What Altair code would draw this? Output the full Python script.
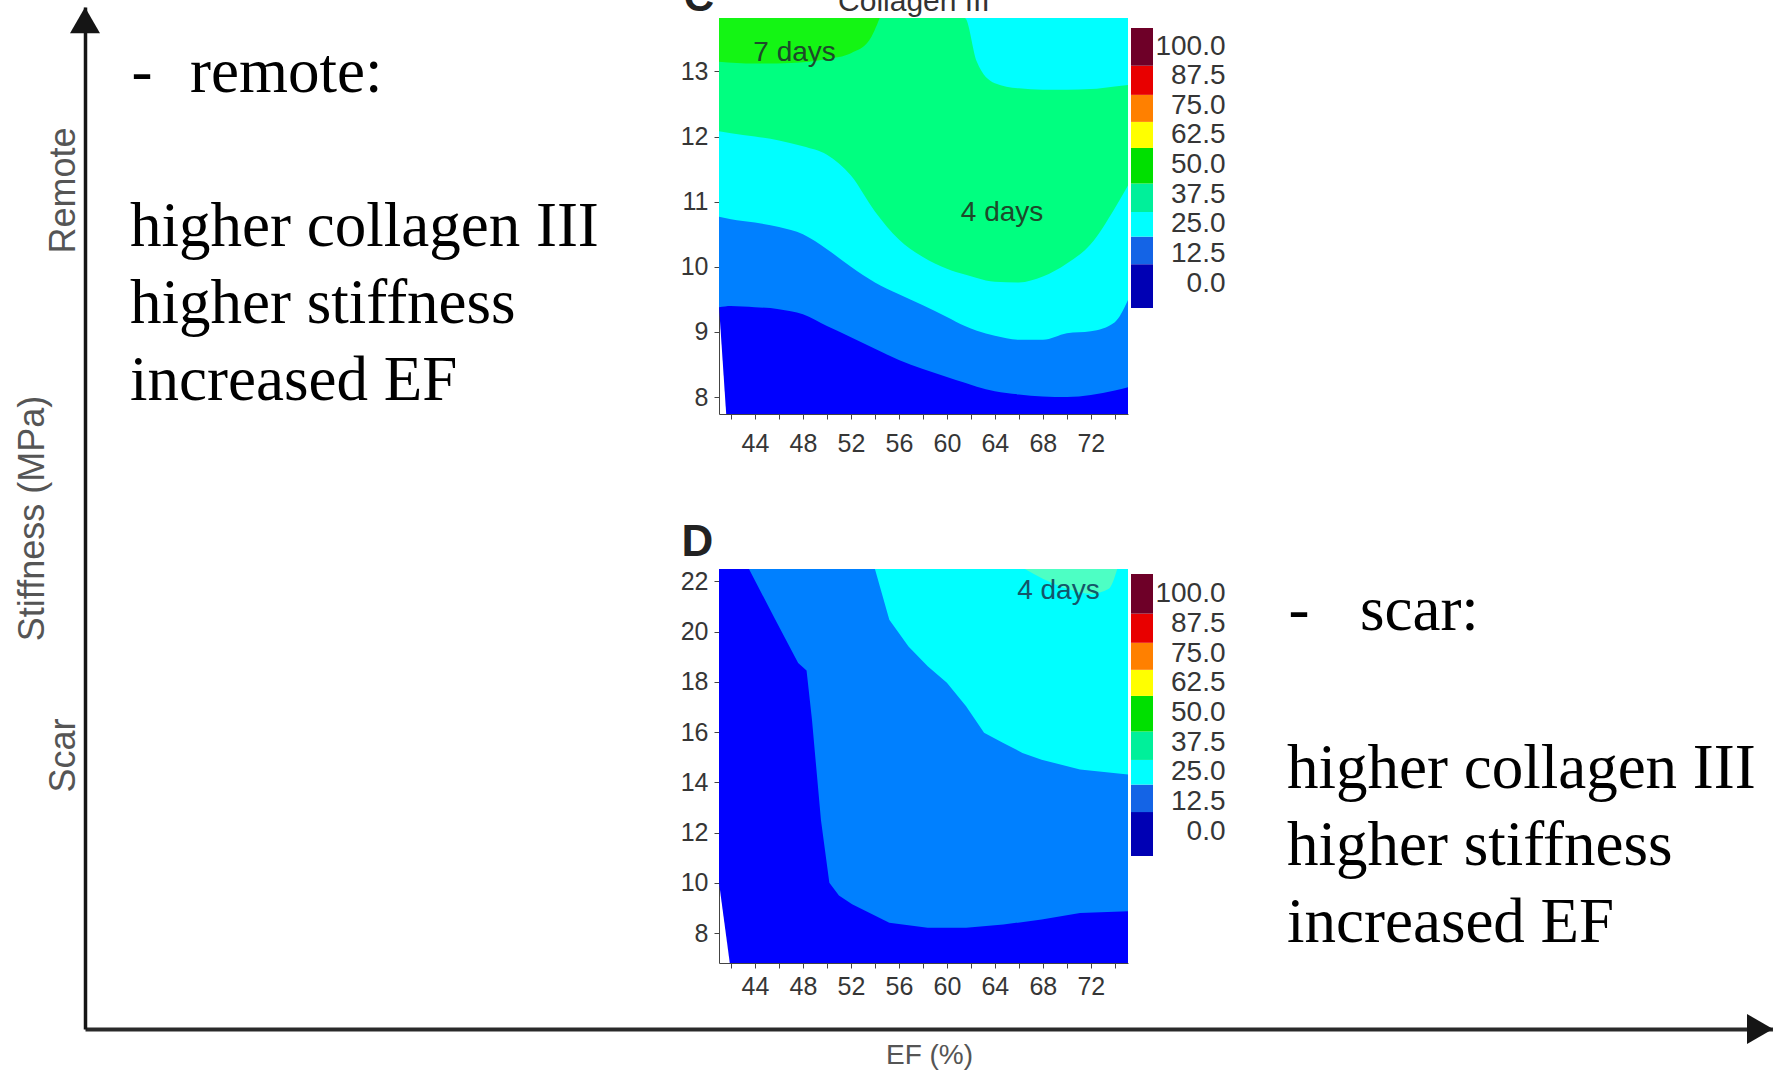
import altair as alt
import pandas as pd

SANS = "Liberation Sans"
SERIF = "Liberation Serif"

# ---------------- Panel C: remote region, Collagen III ----------------
# x = EF (%), y = stiffness (MPa); contour boundaries
C_X = [41, 42, 44, 46, 48, 50, 52, 54, 56, 58, 60, 61.5, 62.5, 64, 66, 68, 70, 72, 74, 75.1]
C_LEVEL_12_5 = [9.38, 9.40, 9.38, 9.35, 9.27, 9.09, 8.92, 8.74, 8.57, 8.43, 8.31, 8.22, 8.16, 8.09, 8.04, 8.01, 8.00, 8.03, 8.10, 8.15]
C_LEVEL_25 = [10.77, 10.73, 10.68, 10.61, 10.50, 10.27, 10.00, 9.76, 9.58, 9.41, 9.23, 9.09, 9.02, 8.94, 8.88, 8.88, 8.98, 9.01, 9.15, 9.49]
C_LEVEL_37_5_LOW = [12.08, 12.05, 12.00, 11.94, 11.85, 11.72, 11.40, 10.85, 10.42, 10.15, 9.97, 9.88, 9.83, 9.77, 9.76, 9.85, 10.05, 10.35, 10.90, 11.25]
C_LEVEL_37_5_HIGH = [13.82, 13.82, 13.82, 13.82, 13.82, 13.82, 13.82, 13.82, 13.82, 13.82, 13.82, 13.82, 13.15, 12.82, 12.74, 12.72, 12.72, 12.73, 12.77, 12.79]
C_TOPLEFT_X = [41, 44, 47, 50, 52, 53.5, 54.4]
C_LEVEL_50 = [13.15, 13.12, 13.13, 13.19, 13.28, 13.47, 13.82]
C_BASE_X = [41, 41.6, 75.1]
C_BASE = [9.40, 7.74, 7.74]
C_XDOM = [41, 75.1]
C_YDOM = [7.74, 13.82]
C_NOTES = ["7 days", "4 days"]
C_NOTE_X = [47.3, 64.6]
C_NOTE_Y = [13.28, 10.82]

# ---------------- Panel D: scar region ----------------
D_BASE_X = [41, 41.9, 75.1]
D_BASE = [10.0, 6.81, 6.81]
D_BLUE_X = [43.5, 45.7, 47.6, 48.3, 48.75, 49.2, 49.5, 50.2, 51.0, 52.1, 55.2, 58.4, 61.6, 64.7, 67.9, 71.1, 75.1]
D_LEVEL_12_5 = [22.49, 20.47, 18.75, 18.45, 16.5, 14.1, 12.5, 10.0, 9.5, 9.15, 8.41, 8.21, 8.21, 8.34, 8.54, 8.80, 8.87]
D_CYAN_X = [54.0, 55.2, 56.8, 58.4, 60.0, 61.6, 63.1, 64.7, 66.3, 67.9, 71.1, 75.1]
D_LEVEL_25 = [22.49, 20.47, 19.41, 18.62, 17.96, 17.03, 15.97, 15.57, 15.17, 14.90, 14.51, 14.31]
D_GREEN_X = [66.5, 68, 70, 72, 73.5, 74.2]
D_LEVEL_37_5 = [22.49, 22.1, 21.7, 21.5, 21.7, 22.49]
D_XDOM = [41, 75.1]
D_YDOM = [6.81, 22.49]
D_NOTES = ["4 days"]
D_NOTE_X = [69.3]
D_NOTE_Y = [21.6]

# ---------------- ticks ----------------
X_TICKS = [42, 44, 46, 48, 50, 52, 54, 56, 58, 60, 62, 64, 66, 68, 70, 72, 74]
X_LABELED = [44, 48, 52, 56, 60, 64, 68, 72]
C_Y_TICKS = [8, 9, 10, 11, 12, 13]
D_Y_TICKS = [8, 10, 12, 14, 16, 18, 20, 22]

# ---------------- colour bar ----------------
CBAR_EDGES = [-20, 8, 19.6, 30, 42, 57, 68, 79.4, 91.7, 120]
CBAR_COLORS = ["#0000B4", "#1464E6", "#00FFFF", "#00F09A", "#00E000", "#FFFF00", "#FF8000", "#E80000", "#6E0028"]
CBAR_TICKS = [0.0, 12.5, 25.0, 37.5, 50.0, 62.5, 75.0, 87.5, 100.0]

# ---------------- outer schematic ----------------
FRAME_Y_TICKS = [26.8, 82.1]
FRAME_Y_LABELS = ["Scar", "Remote"]
REMOTE_HEAD = "remote:"
SCAR_HEAD = "scar:"
NOTE_LINES = ["higher collagen III", "higher stiffness", "increased EF"]

DARK_BLUE = "#0000FF"
MID_BLUE = "#0080FF"
CYAN = "#00FFFF"
SPRING = "#00FF80"
GREEN = "#14F514"


def panel_axis(orient, offset, values, label_expr=None, pad=6):
    kw = dict(orient=orient, offset=offset, values=values, grid=False, title=None,
              domainColor="#444444", domainWidth=1, tickColor="#444444", tickSize=5,
              tickWidth=1, labelFont=SANS, labelFontSize=25, labelColor="#363636",
              labelPadding=pad, labelFlush=False, labelOverlap=False)
    if label_expr:
        kw["labelExpr"] = label_expr
    return alt.Axis(**kw)


def band(xs, lows, color, xsc, ysc, top, highs=None, x_axis=None, y_axis=None, interp="monotone"):
    data = {"x": xs, "lo": lows}
    if highs is not None:
        data["hi"] = highs
    df = pd.DataFrame(data)
    enc = dict(
        x=alt.X("x:Q", scale=xsc, axis=x_axis),
        y=alt.Y("lo:Q", scale=ysc, axis=y_axis),
    )
    enc["y2"] = alt.Y2("hi:Q") if highs is not None else alt.datum(top)
    return alt.Chart(df).mark_area(color=color, interpolate=interp, opacity=1).encode(**enc)


def notes(texts, xs, ys, color, xsc, ysc, size=28):
    df = pd.DataFrame({"t": texts, "x": xs, "y": ys})
    return alt.Chart(df).mark_text(font=SANS, fontSize=size, color=color).encode(
        x=alt.X("x:Q", scale=xsc, axis=None),
        y=alt.Y("y:Q", scale=ysc, axis=None),
        text="t:N",
    )


def label(text, x, y, xsc, ysc, size, weight="normal", color="#222222", baseline="alphabetic"):
    df = pd.DataFrame({"t": [text], "x": [x], "y": [y]})
    return alt.Chart(df).mark_text(font=SANS, fontSize=size, fontWeight=weight, color=color,
                                   baseline=baseline).encode(
        x=alt.X("x:Q", scale=xsc, axis=None),
        y=alt.Y("y:Q", scale=ysc, axis=None),
        text="t:N",
    )


label_expr_x = "indexof([" + ",".join(str(v) for v in X_LABELED) + "], datum.value) >= 0 ? datum.label : ''"

# ---------- panel C ----------
CXS = alt.Scale(domain=C_XDOM, range=[719, 1128], nice=False, zero=False)
CYS = alt.Scale(domain=C_YDOM, range=[414, 18], nice=False, zero=False)
c_top = C_YDOM[1]
panel_c = [
    band(C_BASE_X, C_BASE, DARK_BLUE, CXS, CYS, c_top, interp="linear",
         x_axis=panel_axis("bottom", 414 - 1075, X_TICKS, label_expr_x, pad=12),
         y_axis=panel_axis("left", -719, C_Y_TICKS)),
    band(C_X, C_LEVEL_12_5, MID_BLUE, CXS, CYS, c_top),
    band(C_X, C_LEVEL_25, CYAN, CXS, CYS, c_top),
    band(C_X, C_LEVEL_37_5_LOW, SPRING, CXS, CYS, c_top, highs=C_LEVEL_37_5_HIGH),
    band(C_TOPLEFT_X, C_LEVEL_50, GREEN, CXS, CYS, c_top),
    notes(C_NOTES, C_NOTE_X, C_NOTE_Y, "#1d4a2a", CXS, CYS),
    label("Collagen III", 57.25, 13.93, CXS, CYS, 30, color="#333333"),
    label("C", 39.33, 13.92, CXS, CYS, 42, weight="bold"),
]

# ---------- panel D ----------
DXS = alt.Scale(domain=D_XDOM, range=[719, 1128], nice=False, zero=False)
DYS = alt.Scale(domain=D_YDOM, range=[963, 569], nice=False, zero=False)
d_top = D_YDOM[1]
panel_d = [
    band(D_BASE_X, D_BASE, DARK_BLUE, DXS, DYS, d_top, interp="linear",
         x_axis=panel_axis("bottom", 963 - 1075, X_TICKS, label_expr_x),
         y_axis=panel_axis("left", -719, D_Y_TICKS)),
    band(D_BLUE_X, D_LEVEL_12_5, MID_BLUE, DXS, DYS, d_top, interp="linear"),
    band(D_CYAN_X, D_LEVEL_25, CYAN, DXS, DYS, d_top, interp="linear"),
    band(D_GREEN_X, D_LEVEL_37_5, "#4DFFC4", DXS, DYS, d_top),
    notes(D_NOTES, D_NOTE_X, D_NOTE_Y, "#14566a", DXS, DYS),
    label("D", 39.2, 23.0, DXS, DYS, 44, weight="bold"),
]


# ---------- colour bars ----------
def colorbar(dom, rng):
    df = pd.DataFrame({"lo": CBAR_EDGES[:-1], "hi": CBAR_EDGES[1:], "c": CBAR_COLORS})
    return alt.Chart(df).mark_rect().encode(
        x=alt.XDatum(0, scale=alt.Scale(domain=[0, 1], range=[1131, 1153]), axis=None),
        x2=alt.X2Datum(1),
        y=alt.Y("lo:Q", scale=alt.Scale(domain=dom, range=rng, clamp=True, nice=False, zero=False),
                axis=alt.Axis(orient="right", offset=1153 - 1773, values=CBAR_TICKS, format=".1f",
                              grid=False, title=None, domain=False, ticks=False, tickSize=0,
                              labelAlign="right", labelPadding=72, labelFont=SANS,
                              labelFontSize=28, labelColor="#363636", labelOverlap=False,
                              labelFlush=False)),
        y2="hi:Q",
        fill=alt.Fill("c:N", scale=None),
    )


cbar_c = colorbar([-10.5, 107.6], [308, 28])
cbar_d = colorbar([-10.5, 108.4], [856, 574])

# ---------- outer schematic frame ----------
FX = alt.Scale(domain=[0, 100], range=[85, 1773], nice=False, zero=False)
FY = alt.Scale(domain=[0, 100], range=[1029, 7], nice=False, zero=False)
frame_label_expr = f"datum.value > 50 ? '{FRAME_Y_LABELS[1]}' : '{FRAME_Y_LABELS[0]}'"

arrows = pd.DataFrame({"x": [0, 99.23], "y": [98.7, 0], "shape": ["triangle-up", "triangle-right"]})
arrow_layer = alt.Chart(arrows).mark_point(filled=True, size=900, opacity=1, color="#151515").encode(
    x=alt.X("x:Q", scale=FX, axis=alt.Axis(
        orient="bottom", offset=1029 - 1075, grid=False, labels=False, ticks=False, tickSize=0,
        domainWidth=4, domainColor="#2a2a2a", title="EF (%)", titleFont=SANS, titleFontSize=28,
        titleFontWeight="normal", titleColor="#555555", titlePadding=12)),
    y=alt.Y("y:Q", scale=FY, axis=alt.Axis(
        orient="left", offset=-85, values=FRAME_Y_TICKS, labelExpr=frame_label_expr, grid=False,
        ticks=False, tickSize=0, domainWidth=3.5, domainColor="#151515", labelAngle=-90,
        labelAlign="center", labelBaseline="bottom", labelPadding=3, labelFont=SANS,
        labelFontSize=36, labelColor="#555555", title="Stiffness (MPa)", titleFont=SANS,
        titleFontSize=36, titleFontWeight="normal", titleColor="#555555",
        titleX=-53, titleBaseline="middle")),
    shape=alt.Shape("shape:N", scale=None),
)


def slide_text(lines, x, y):
    df = pd.DataFrame({"x": [x], "y": [y]})
    return alt.Chart(df).mark_text(font=SERIF, fontSize=63, lineHeight=77, align="left",
                                   baseline="alphabetic", color="#000000").encode(
        x=alt.X("x:Q", scale=FX, axis=None),
        y=alt.Y("y:Q", scale=FY, axis=None),
        text=alt.value(lines),
    )


frame = [
    arrow_layer,
    slide_text("-", 2.75, 91.7),
    slide_text(REMOTE_HEAD, 6.22, 91.7),
    slide_text(NOTE_LINES, 2.67, 76.6),
    slide_text("-", 71.3, 39.0),
    slide_text(SCAR_HEAD, 75.53, 39.0),
    slide_text(NOTE_LINES, 71.21, 23.6),
]

layers = frame + panel_c + [cbar_c] + panel_d + [cbar_d]

chart = alt.layer(*layers).resolve_scale(
    x="independent", y="independent"
).resolve_axis(
    x="independent", y="independent"
).properties(
    width=1773, height=1075, autosize=alt.AutoSizeParams(type="none"), padding=0,
    background="white",
).configure_view(strokeWidth=0)

chart.save("out.html", embed_options={"renderer": "svg", "actions": False})
